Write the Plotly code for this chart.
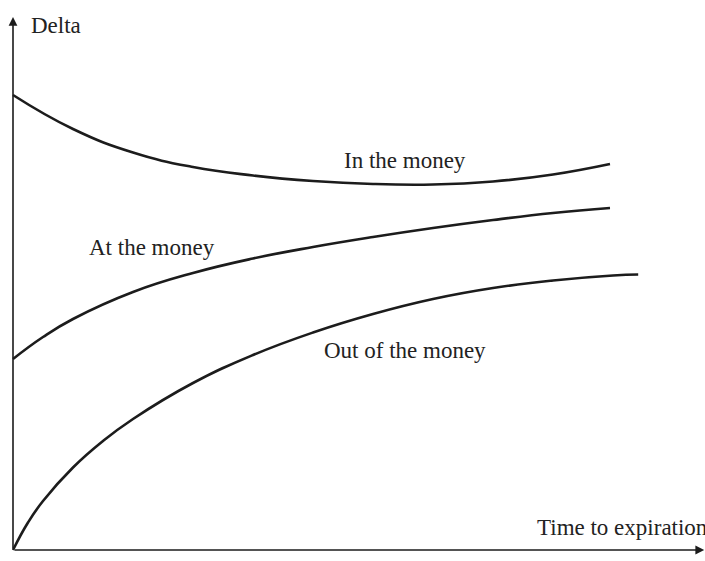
import plotly.graph_objects as go

# Time to expiration (arbitrary units) and delta values
t_itm = [0, 1, 2, 3, 4, 5, 6, 7, 8, 9, 9.95]
d_itm = [0.910, 0.842, 0.795, 0.766, 0.749, 0.738, 0.732, 0.731, 0.737, 0.751, 0.772]

t_atm = [0, 0.5, 1, 2, 3, 4, 5, 6, 7, 8, 9, 9.95]
d_atm = [0.382, 0.426, 0.462, 0.516, 0.554, 0.583, 0.606, 0.626, 0.644, 0.660, 0.674, 0.684]

t_otm = [0, 0.25, 0.5, 1, 1.5, 2, 3, 4, 5, 6, 7, 8, 9, 10, 10.42]
d_otm = [0.0, 0.055, 0.098, 0.165, 0.218, 0.262, 0.334, 0.390, 0.435, 0.472, 0.502, 0.524, 0.539, 0.549, 0.551]

labels = ["In the money", "At the money", "Out of the money"]
axis_titles = ["Time to expiration", "Delta"]

FONT = "Liberation Serif, Times New Roman, serif"
LINE = "#1c1c1c"
TXT = "#222222"

fig = go.Figure()
for t, d in [(t_itm, d_itm), (t_atm, d_atm), (t_otm, d_otm)]:
    fig.add_trace(go.Scatter(x=t, y=d, mode="lines",
                             line=dict(color=LINE, width=2.6, shape="spline", smoothing=1.3),
                             hoverinfo="skip", showlegend=False))

# axes with arrows
fig.add_annotation(x=11.52, y=0, ax=0, ay=0, xref="x", yref="y", axref="x", ayref="y",
                   text="", showarrow=True, arrowhead=2, arrowsize=1.1, arrowwidth=1.6,
                   arrowcolor=LINE, standoff=0, startstandoff=0)
fig.add_annotation(x=0, y=1.066, ax=0, ay=0, xref="x", yref="y", axref="x", ayref="y",
                   text="", showarrow=True, arrowhead=2, arrowsize=1.1, arrowwidth=1.6,
                   arrowcolor=LINE, standoff=0, startstandoff=0)

fnt = dict(family=FONT, size=23, color=TXT)
fig.add_annotation(x=6.533, y=0.78, text=labels[0], showarrow=False, font=fnt,
                   xanchor="center", yanchor="middle")
fig.add_annotation(x=2.317, y=0.606, text=labels[1], showarrow=False, font=fnt,
                   xanchor="center", yanchor="middle")
fig.add_annotation(x=6.533, y=0.400, text=labels[2], showarrow=False, font=fnt,
                   xanchor="center", yanchor="middle")
fig.add_annotation(x=0.27, y=1.05, text=axis_titles[1], showarrow=False, font=fnt,
                   xanchor="left", yanchor="middle")
fig.add_annotation(x=8.70, y=0.046, text=axis_titles[0], showarrow=False, font=fnt,
                   xanchor="left", yanchor="middle")

fig.update_layout(
    width=705, height=561,
    margin=dict(l=0, r=0, t=0, b=0),
    paper_bgcolor="white", plot_bgcolor="white",
    xaxis=dict(range=[-13/60, 692/60], visible=False, fixedrange=True),
    yaxis=dict(range=[-11/500, 550/500], visible=False, fixedrange=True),
)

fig.write_html("out.html", config={"displayModeBar": False})
